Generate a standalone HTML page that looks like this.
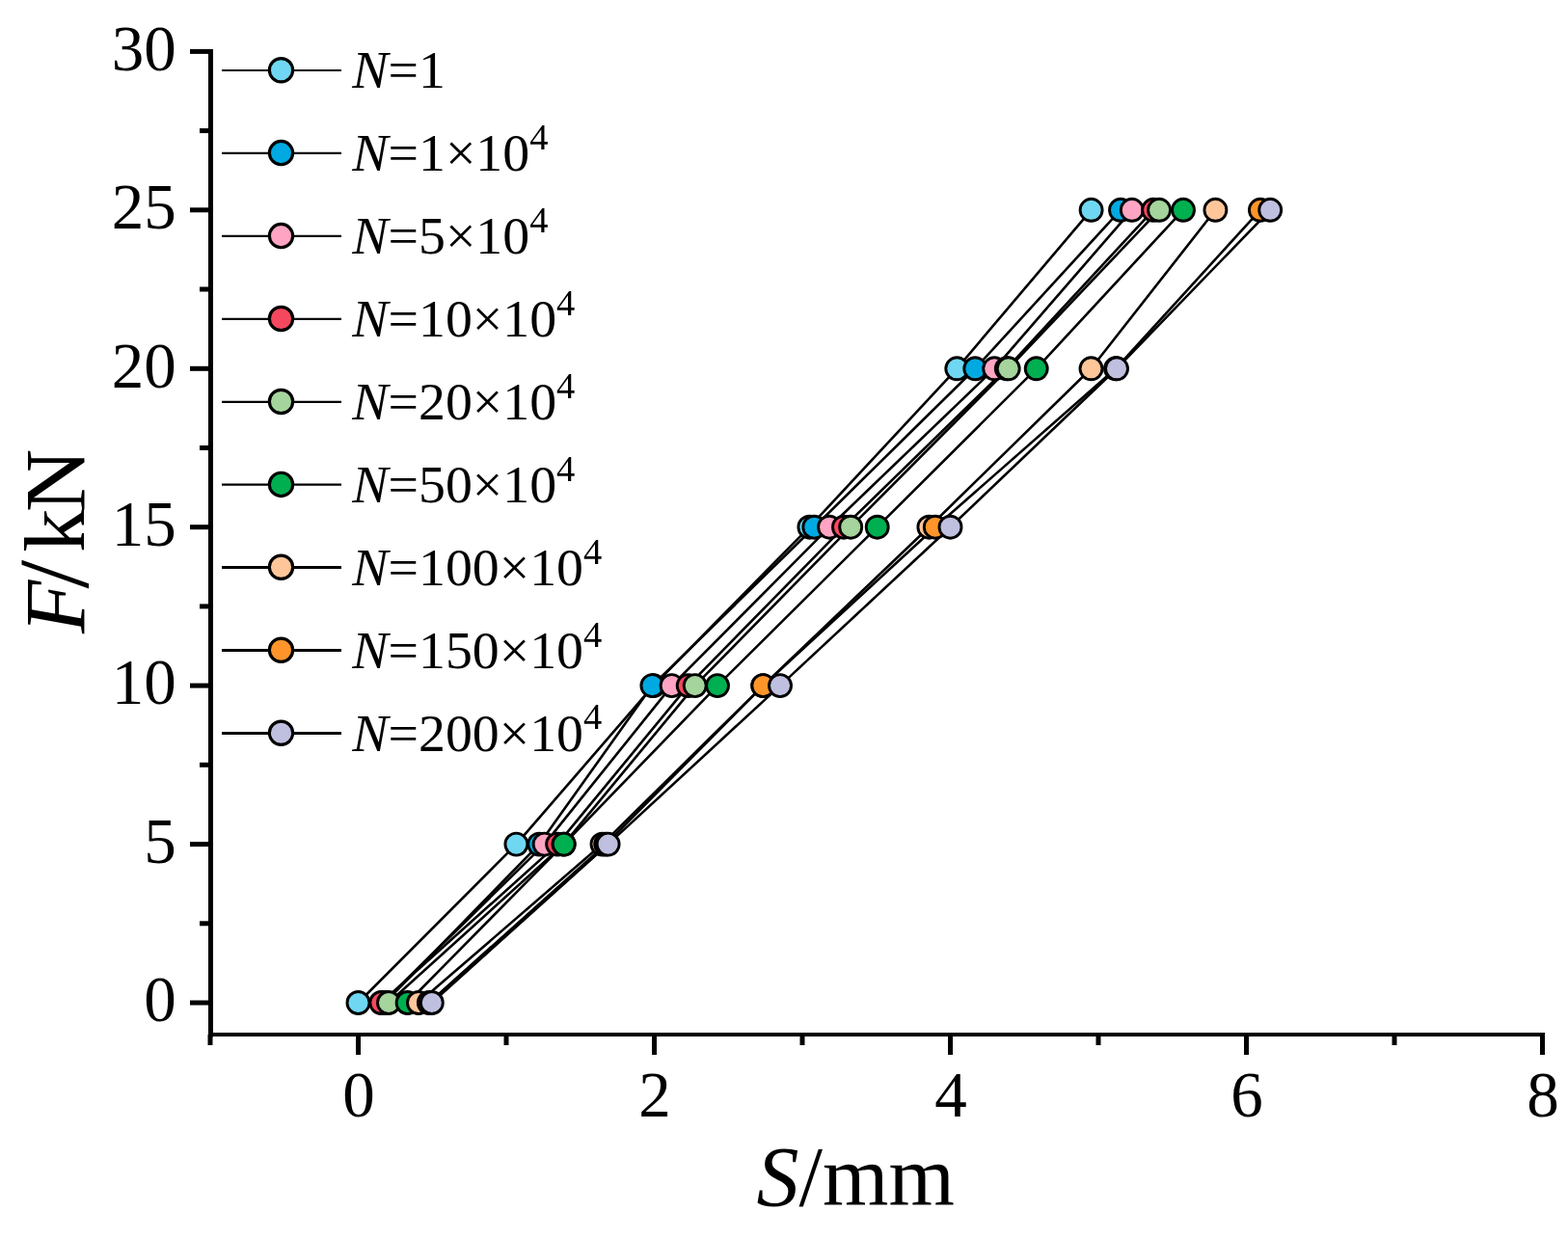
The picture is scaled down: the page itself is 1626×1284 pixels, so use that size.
<!DOCTYPE html>
<html lang="en">
<head>
<meta charset="utf-8">
<title>F-S curves</title>
<style>
html,body{margin:0;padding:0;background:#fff;}
body{width:1626px;height:1284px;overflow:hidden;}
svg{display:block;}
text{font-family:"Liberation Serif",serif;fill:#000;}
.tk{font-size:67px;}
.lg{font-size:55.8px;}
.sp{font-size:38.5px;}
.ti{font-size:88px;}
.i{font-style:italic;}
</style>
</head>
<body>
<svg width="1626" height="1284" viewBox="0 0 1626 1284">
<rect width="1626" height="1284" fill="#fff"/>
<g stroke="#000" stroke-width="5" fill="none" stroke-linecap="butt">
<path d="M218.5 50.9 V1075.5"/>
<path d="M216.0 1073.0 H1602.0" stroke-width="4"/>
<path d="M197.0 1040.0 H218.5"/>
<path d="M197.0 875.6 H218.5"/>
<path d="M197.0 711.1 H218.5"/>
<path d="M197.0 546.7 H218.5"/>
<path d="M197.0 382.3 H218.5"/>
<path d="M197.0 217.8 H218.5"/>
<path d="M197.0 53.4 H218.5"/>
<path d="M207.0 957.8 H218.5"/>
<path d="M207.0 793.3 H218.5"/>
<path d="M207.0 628.9 H218.5"/>
<path d="M207.0 464.5 H218.5"/>
<path d="M207.0 300.0 H218.5"/>
<path d="M207.0 135.6 H218.5"/>
<path d="M371.5 1073.0 V1094.0"/>
<path d="M678.5 1073.0 V1094.0"/>
<path d="M985.5 1073.0 V1094.0"/>
<path d="M1292.5 1073.0 V1094.0"/>
<path d="M1599.5 1073.0 V1094.0"/>
<path d="M218.0 1073.0 V1084.0"/>
<path d="M525.0 1073.0 V1084.0"/>
<path d="M832.0 1073.0 V1084.0"/>
<path d="M1139.0 1073.0 V1084.0"/>
<path d="M1446.0 1073.0 V1084.0"/>
</g>
<g class="tk" text-anchor="end">
<text x="182.7" y="1059.3">0</text>
<text x="182.7" y="894.9">5</text>
<text x="182.7" y="730.4">10</text>
<text x="182.7" y="566.0">15</text>
<text x="182.7" y="401.6">20</text>
<text x="182.7" y="237.1">25</text>
<text x="182.7" y="72.7">30</text>
</g>
<g class="tk" text-anchor="middle">
<text x="372.0" y="1158.3">0</text>
<text x="679.0" y="1158.3">2</text>
<text x="986.0" y="1158.3">4</text>
<text x="1293.0" y="1158.3">6</text>
<text x="1600.0" y="1158.3">8</text>
</g>
<text class="ti" x="784.6" y="1250"><tspan class="i">S</tspan>/mm</text>
<text class="ti" transform="translate(86.6 658) rotate(-90) scale(1.03 1)"><tspan class="i" x="0.9">F</tspan><tspan x="46.1" dy="4.7" font-size="104">/</tspan><tspan x="82.9" dy="-4.7">k</tspan><tspan x="123.4">N</tspan></text>
<g stroke="#000" stroke-width="2.6" fill="none" stroke-linejoin="round">
<polyline points="371.5,1040.0 535.4,875.6 677.7,711.1 839.4,546.7 992.3,382.3 1131.6,217.8"/>
<polyline points="399.1,1040.0 559.2,875.6 676.4,711.1 844.3,546.7 1011.3,382.3 1162.0,217.8"/>
<polyline points="396.8,1040.0 564.6,875.6 696.6,711.1 860.1,546.7 1031.2,382.3 1173.8,217.8"/>
<polyline points="395.3,1040.0 578.1,875.6 713.7,711.1 875.0,546.7 1043.8,382.3 1196.1,217.8"/>
<polyline points="403.0,1040.0 584.6,875.6 720.7,711.1 882.2,546.7 1045.7,382.3 1202.1,217.8"/>
<polyline points="422.6,1040.0 584.7,875.6 744.0,711.1 909.7,546.7 1074.7,382.3 1227.0,217.8"/>
<polyline points="434.0,1040.0 624.5,875.6 791.3,711.1 963.4,546.7 1131.5,382.3 1260.4,217.8"/>
<polyline points="444.9,1040.0 628.2,875.6 791.3,711.1 969.8,546.7 1157.0,382.3 1306.9,217.8"/>
<polyline points="447.8,1040.0 630.6,875.6 809.0,711.1 985.5,546.7 1158.0,382.3 1317.2,217.8"/>
</g>
<g stroke="#000" stroke-width="2.9">
<g fill="#70D7F2"><circle cx="371.5" cy="1040.0" r="11.5"/><circle cx="535.4" cy="875.6" r="11.5"/><circle cx="677.7" cy="711.1" r="11.5"/><circle cx="839.4" cy="546.7" r="11.5"/><circle cx="992.3" cy="382.3" r="11.5"/><circle cx="1131.6" cy="217.8" r="11.5"/></g>
<g fill="#00A9E1"><circle cx="399.1" cy="1040.0" r="11.5"/><circle cx="559.2" cy="875.6" r="11.5"/><circle cx="676.4" cy="711.1" r="11.5"/><circle cx="844.3" cy="546.7" r="11.5"/><circle cx="1011.3" cy="382.3" r="11.5"/><circle cx="1162.0" cy="217.8" r="11.5"/></g>
<g fill="#FFA5C3"><circle cx="396.8" cy="1040.0" r="11.5"/><circle cx="564.6" cy="875.6" r="11.5"/><circle cx="696.6" cy="711.1" r="11.5"/><circle cx="860.1" cy="546.7" r="11.5"/><circle cx="1031.2" cy="382.3" r="11.5"/><circle cx="1173.8" cy="217.8" r="11.5"/></g>
<g fill="#F5485E"><circle cx="395.3" cy="1040.0" r="11.5"/><circle cx="578.1" cy="875.6" r="11.5"/><circle cx="713.7" cy="711.1" r="11.5"/><circle cx="875.0" cy="546.7" r="11.5"/><circle cx="1043.8" cy="382.3" r="11.5"/><circle cx="1196.1" cy="217.8" r="11.5"/></g>
<g fill="#A5D49C"><circle cx="403.0" cy="1040.0" r="11.5"/><circle cx="584.6" cy="875.6" r="11.5"/><circle cx="720.7" cy="711.1" r="11.5"/><circle cx="882.2" cy="546.7" r="11.5"/><circle cx="1045.7" cy="382.3" r="11.5"/><circle cx="1202.1" cy="217.8" r="11.5"/></g>
<g fill="#00AF50"><circle cx="422.6" cy="1040.0" r="11.5"/><circle cx="584.7" cy="875.6" r="11.5"/><circle cx="744.0" cy="711.1" r="11.5"/><circle cx="909.7" cy="546.7" r="11.5"/><circle cx="1074.7" cy="382.3" r="11.5"/><circle cx="1227.0" cy="217.8" r="11.5"/></g>
<g fill="#FFC699"><circle cx="434.0" cy="1040.0" r="11.5"/><circle cx="624.5" cy="875.6" r="11.5"/><circle cx="791.3" cy="711.1" r="11.5"/><circle cx="963.4" cy="546.7" r="11.5"/><circle cx="1131.5" cy="382.3" r="11.5"/><circle cx="1260.4" cy="217.8" r="11.5"/></g>
<g fill="#FF952A"><circle cx="444.9" cy="1040.0" r="11.5"/><circle cx="628.2" cy="875.6" r="11.5"/><circle cx="791.3" cy="711.1" r="11.5"/><circle cx="969.8" cy="546.7" r="11.5"/><circle cx="1157.0" cy="382.3" r="11.5"/><circle cx="1306.9" cy="217.8" r="11.5"/></g>
<g fill="#BFBFDF"><circle cx="447.8" cy="1040.0" r="11.5"/><circle cx="630.6" cy="875.6" r="11.5"/><circle cx="809.0" cy="711.1" r="11.5"/><circle cx="985.5" cy="546.7" r="11.5"/><circle cx="1158.0" cy="382.3" r="11.5"/><circle cx="1317.2" cy="217.8" r="11.5"/></g>
</g>
<g>
<path d="M230 73.0 H354" stroke="#000" stroke-width="2.2"/>
<circle cx="291.5" cy="72.7" r="12.15" fill="#70D7F2" stroke="#000" stroke-width="3.2"/>
<text class="lg" x="365.3" y="91.3"><tspan class="i">N</tspan>=1</text>
<path d="M230 158.9 H354" stroke="#000" stroke-width="2.2"/>
<circle cx="291.5" cy="158.6" r="12.15" fill="#00A9E1" stroke="#000" stroke-width="3.2"/>
<text class="lg" x="365.3" y="177.2"><tspan class="i">N</tspan>=1×10<tspan class="sp" dy="-22.4">4</tspan></text>
<path d="M230 244.9 H354" stroke="#000" stroke-width="2.2"/>
<circle cx="291.5" cy="244.6" r="12.15" fill="#FFA5C3" stroke="#000" stroke-width="3.2"/>
<text class="lg" x="365.3" y="263.2"><tspan class="i">N</tspan>=5×10<tspan class="sp" dy="-22.4">4</tspan></text>
<path d="M230 330.8 H354" stroke="#000" stroke-width="2.2"/>
<circle cx="291.5" cy="330.5" r="12.15" fill="#F5485E" stroke="#000" stroke-width="3.2"/>
<text class="lg" x="365.3" y="349.1"><tspan class="i">N</tspan>=10×10<tspan class="sp" dy="-22.4">4</tspan></text>
<path d="M230 416.8 H354" stroke="#000" stroke-width="2.2"/>
<circle cx="291.5" cy="416.5" r="12.15" fill="#A5D49C" stroke="#000" stroke-width="3.2"/>
<text class="lg" x="365.3" y="435.1"><tspan class="i">N</tspan>=20×10<tspan class="sp" dy="-22.4">4</tspan></text>
<path d="M230 502.7 H354" stroke="#000" stroke-width="2.2"/>
<circle cx="291.5" cy="502.4" r="12.15" fill="#00AF50" stroke="#000" stroke-width="3.2"/>
<text class="lg" x="365.3" y="521.0"><tspan class="i">N</tspan>=50×10<tspan class="sp" dy="-22.4">4</tspan></text>
<path d="M230 588.6 H354" stroke="#000" stroke-width="3"/>
<circle cx="291.5" cy="588.3" r="12.15" fill="#FFC699" stroke="#000" stroke-width="3.2"/>
<text class="lg" x="365.3" y="606.9"><tspan class="i">N</tspan>=100×10<tspan class="sp" dy="-22.4">4</tspan></text>
<path d="M230 674.6 H354" stroke="#000" stroke-width="3"/>
<circle cx="291.5" cy="674.3" r="12.15" fill="#FF952A" stroke="#000" stroke-width="3.2"/>
<text class="lg" x="365.3" y="692.9"><tspan class="i">N</tspan>=150×10<tspan class="sp" dy="-22.4">4</tspan></text>
<path d="M230 760.5 H354" stroke="#000" stroke-width="3"/>
<circle cx="291.5" cy="760.2" r="12.15" fill="#BFBFDF" stroke="#000" stroke-width="3.2"/>
<text class="lg" x="365.3" y="778.8"><tspan class="i">N</tspan>=200×10<tspan class="sp" dy="-22.4">4</tspan></text>
</g>
</svg>
</body>
</html>
